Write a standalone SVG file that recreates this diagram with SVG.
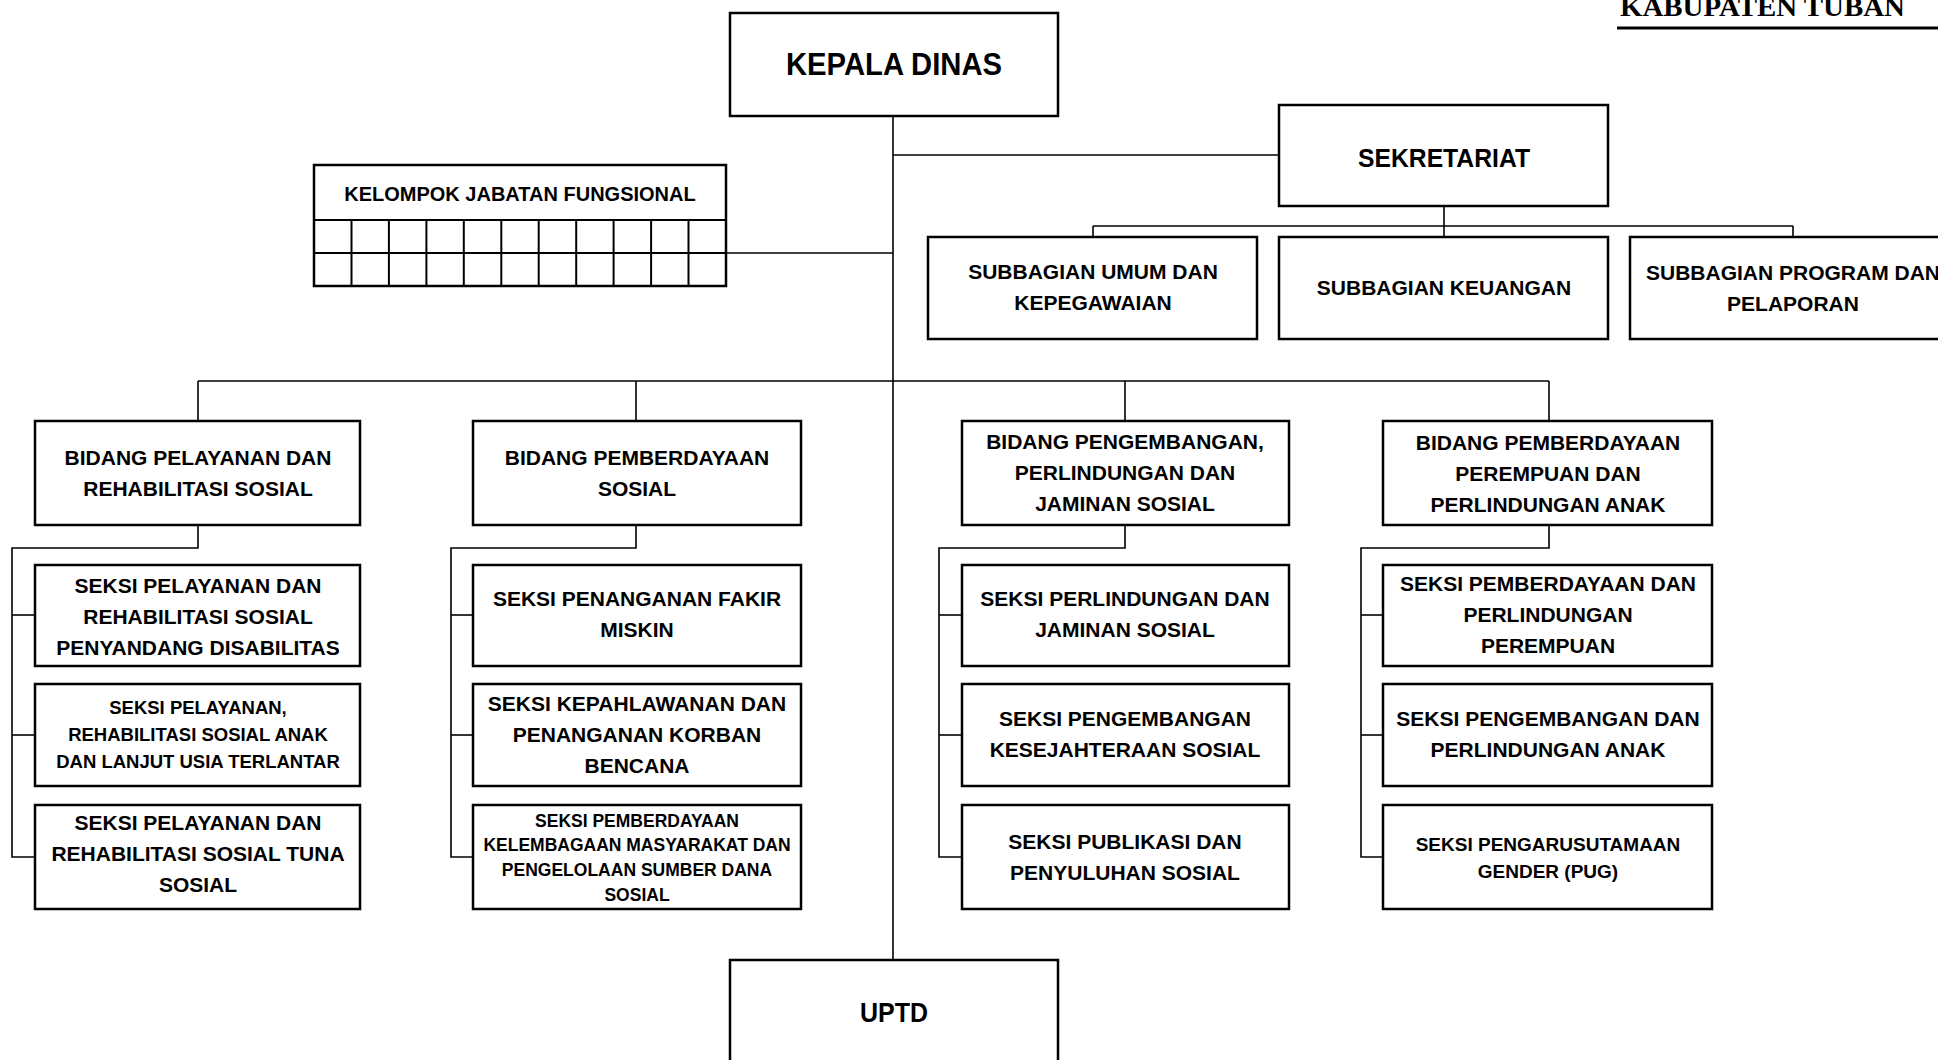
<svg xmlns="http://www.w3.org/2000/svg" width="1938" height="1060" viewBox="0 0 1938 1060">
<style>
  .box { fill: #ffffff; stroke: #000000; stroke-width: 2.5; }
  .ln { fill: none; stroke: #000000; stroke-width: 1.6; }
  .grid { fill: none; stroke: #000000; stroke-width: 2; }
  text { font-family: "Liberation Sans", Arial, sans-serif; font-weight: bold; fill: #000000; text-anchor: middle; }
  .t21 { font-size: 21px; }
  .t20 { font-size: 20px; }
  .t19 { font-size: 19px; }
  .t185 { font-size: 18.5px; }
  .t175 { font-size: 17.5px; }
  .tbig { font-size: 31px; }
  .tsek { font-size: 26px; }
  .tuptd { font-size: 28px; }
  .hdr { font-family: "Liberation Serif", "Times New Roman", serif; font-weight: bold; font-size: 28px; text-anchor: start; }
</style>
<rect x="0" y="0" width="1938" height="1060" fill="#ffffff"/>

<g id="header">
  <text class="hdr" x="1620" y="16" textLength="285" lengthAdjust="spacingAndGlyphs">KABUPATEN TUBAN</text>
  <line x1="1617" y1="28" x2="1938" y2="28" stroke="#000" stroke-width="3"/>
</g>

<g id="connectors">
  <line class="ln" x1="893" y1="116" x2="893" y2="960"/>
  <line class="ln" x1="893" y1="155" x2="1279" y2="155"/>
  <line class="ln" x1="726" y1="253" x2="893" y2="253"/>
  <line class="ln" x1="1444" y1="206" x2="1444" y2="237"/>
  <line class="ln" x1="1093" y1="226" x2="1793" y2="226"/>
  <line class="ln" x1="1093" y1="226" x2="1093" y2="237"/>
  <line class="ln" x1="1793" y1="226" x2="1793" y2="237"/>
  <line class="ln" x1="198" y1="381" x2="1549" y2="381"/>
  <line class="ln" x1="198" y1="381" x2="198" y2="421"/>
  <line class="ln" x1="636" y1="381" x2="636" y2="421"/>
  <line class="ln" x1="1125" y1="381" x2="1125" y2="421"/>
  <line class="ln" x1="1549" y1="381" x2="1549" y2="421"/>
  <polyline class="ln" points="198,525 198,548 12,548 12,857 35,857"/>
  <line class="ln" x1="12" y1="615" x2="35" y2="615"/>
  <line class="ln" x1="12" y1="735" x2="35" y2="735"/>
  <polyline class="ln" points="636,525 636,548 451,548 451,857 473,857"/>
  <line class="ln" x1="451" y1="615" x2="473" y2="615"/>
  <line class="ln" x1="451" y1="735" x2="473" y2="735"/>
  <polyline class="ln" points="1125,525 1125,548 939,548 939,857 962,857"/>
  <line class="ln" x1="939" y1="615" x2="962" y2="615"/>
  <line class="ln" x1="939" y1="735" x2="962" y2="735"/>
  <polyline class="ln" points="1549,525 1549,548 1361,548 1361,857 1383,857"/>
  <line class="ln" x1="1361" y1="615" x2="1383" y2="615"/>
  <line class="ln" x1="1361" y1="735" x2="1383" y2="735"/>
</g>

<g id="kepala-dinas">
  <rect class="box" x="730" y="13" width="328" height="103"/>
  <text class="tbig" x="894" y="75" textLength="216" lengthAdjust="spacingAndGlyphs">KEPALA DINAS</text>
</g>

<g id="sekretariat">
  <rect class="box" x="1279" y="105" width="329" height="101"/>
  <text class="tsek" x="1444" y="167" textLength="172" lengthAdjust="spacingAndGlyphs">SEKRETARIAT</text>
</g>

<g id="kelompok-jabatan-fungsional">
  <rect class="box" x="314" y="165" width="412" height="121"/>
  <line class="grid" x1="314" y1="220" x2="726" y2="220"/>
  <line class="grid" x1="314" y1="253" x2="726" y2="253"/>
  <line class="grid" x1="351.5" y1="220" x2="351.5" y2="286"/>
  <line class="grid" x1="388.9" y1="220" x2="388.9" y2="286"/>
  <line class="grid" x1="426.4" y1="220" x2="426.4" y2="286"/>
  <line class="grid" x1="463.8" y1="220" x2="463.8" y2="286"/>
  <line class="grid" x1="501.3" y1="220" x2="501.3" y2="286"/>
  <line class="grid" x1="538.7" y1="220" x2="538.7" y2="286"/>
  <line class="grid" x1="576.2" y1="220" x2="576.2" y2="286"/>
  <line class="grid" x1="613.6" y1="220" x2="613.6" y2="286"/>
  <line class="grid" x1="651.1" y1="220" x2="651.1" y2="286"/>
  <line class="grid" x1="688.5" y1="220" x2="688.5" y2="286"/>
  <text class="t20" x="520" y="201">KELOMPOK JABATAN FUNGSIONAL</text>
</g>

<g id="subbagian-umum">
  <rect class="box" x="928" y="237" width="329" height="102"/>
  <text class="t21" x="1093" y="279">SUBBAGIAN UMUM DAN</text>
  <text class="t21" x="1093" y="310">KEPEGAWAIAN</text>
</g>

<g id="subbagian-keuangan">
  <rect class="box" x="1279" y="237" width="329" height="102"/>
  <text class="t21" x="1444" y="295">SUBBAGIAN KEUANGAN</text>
</g>

<g id="subbagian-program">
  <rect class="box" x="1630" y="237" width="329" height="102"/>
  <text class="t21" x="1793" y="280">SUBBAGIAN PROGRAM DAN</text>
  <text class="t21" x="1793" y="311">PELAPORAN</text>
</g>

<g id="bidang-pelayanan">
  <rect class="box" x="35" y="421" width="325" height="104"/>
  <text class="t21" x="198" y="465">BIDANG PELAYANAN DAN</text>
  <text class="t21" x="198" y="496">REHABILITASI SOSIAL</text>
</g>
<g id="seksi-disabilitas">
  <rect class="box" x="35" y="565" width="325" height="101"/>
  <text class="t21" x="198" y="593">SEKSI PELAYANAN DAN</text>
  <text class="t21" x="198" y="624">REHABILITASI SOSIAL</text>
  <text class="t21" x="198" y="655">PENYANDANG DISABILITAS</text>
</g>
<g id="seksi-anak-lansia">
  <rect class="box" x="35" y="684" width="325" height="102"/>
  <text class="t185" x="198" y="714">SEKSI PELAYANAN,</text>
  <text class="t185" x="198" y="741">REHABILITASI SOSIAL ANAK</text>
  <text class="t185" x="198" y="768">DAN LANJUT USIA TERLANTAR</text>
</g>
<g id="seksi-tuna-sosial">
  <rect class="box" x="35" y="805" width="325" height="104"/>
  <text class="t21" x="198" y="830">SEKSI PELAYANAN DAN</text>
  <text class="t21" x="198" y="861">REHABILITASI SOSIAL TUNA</text>
  <text class="t21" x="198" y="892">SOSIAL</text>
</g>

<g id="bidang-pemberdayaan-sosial">
  <rect class="box" x="473" y="421" width="328" height="104"/>
  <text class="t21" x="637" y="465">BIDANG PEMBERDAYAAN</text>
  <text class="t21" x="637" y="496">SOSIAL</text>
</g>
<g id="seksi-fakir-miskin">
  <rect class="box" x="473" y="565" width="328" height="101"/>
  <text class="t21" x="637" y="606">SEKSI PENANGANAN FAKIR</text>
  <text class="t21" x="637" y="637">MISKIN</text>
</g>
<g id="seksi-kepahlawanan">
  <rect class="box" x="473" y="684" width="328" height="102"/>
  <text class="t21" x="637" y="711">SEKSI KEPAHLAWANAN DAN</text>
  <text class="t21" x="637" y="742">PENANGANAN KORBAN</text>
  <text class="t21" x="637" y="773">BENCANA</text>
</g>
<g id="seksi-kelembagaan">
  <rect class="box" x="473" y="805" width="328" height="104"/>
  <text class="t175" x="637" y="827">SEKSI PEMBERDAYAAN</text>
  <text class="t175" x="637" y="851">KELEMBAGAAN MASYARAKAT DAN</text>
  <text class="t175" x="637" y="876">PENGELOLAAN SUMBER DANA</text>
  <text class="t175" x="637" y="901">SOSIAL</text>
</g>

<g id="bidang-pengembangan">
  <rect class="box" x="962" y="421" width="327" height="104"/>
  <text class="t21" x="1125" y="449">BIDANG PENGEMBANGAN,</text>
  <text class="t21" x="1125" y="480">PERLINDUNGAN DAN</text>
  <text class="t21" x="1125" y="511">JAMINAN SOSIAL</text>
</g>
<g id="seksi-perlindungan-jaminan">
  <rect class="box" x="962" y="565" width="327" height="101"/>
  <text class="t21" x="1125" y="606">SEKSI PERLINDUNGAN DAN</text>
  <text class="t21" x="1125" y="637">JAMINAN SOSIAL</text>
</g>
<g id="seksi-kesejahteraan">
  <rect class="box" x="962" y="684" width="327" height="102"/>
  <text class="t21" x="1125" y="726">SEKSI PENGEMBANGAN</text>
  <text class="t21" x="1125" y="757">KESEJAHTERAAN SOSIAL</text>
</g>
<g id="seksi-publikasi">
  <rect class="box" x="962" y="805" width="327" height="104"/>
  <text class="t21" x="1125" y="849">SEKSI PUBLIKASI DAN</text>
  <text class="t21" x="1125" y="880">PENYULUHAN SOSIAL</text>
</g>

<g id="bidang-perempuan-anak">
  <rect class="box" x="1383" y="421" width="329" height="104"/>
  <text class="t21" x="1548" y="450">BIDANG PEMBERDAYAAN</text>
  <text class="t21" x="1548" y="481">PEREMPUAN DAN</text>
  <text class="t21" x="1548" y="512">PERLINDUNGAN ANAK</text>
</g>
<g id="seksi-perempuan">
  <rect class="box" x="1383" y="565" width="329" height="101"/>
  <text class="t21" x="1548" y="591">SEKSI PEMBERDAYAAN DAN</text>
  <text class="t21" x="1548" y="622">PERLINDUNGAN</text>
  <text class="t21" x="1548" y="653">PEREMPUAN</text>
</g>
<g id="seksi-anak">
  <rect class="box" x="1383" y="684" width="329" height="102"/>
  <text class="t21" x="1548" y="726">SEKSI PENGEMBANGAN DAN</text>
  <text class="t21" x="1548" y="757">PERLINDUNGAN ANAK</text>
</g>
<g id="seksi-pug">
  <rect class="box" x="1383" y="805" width="329" height="104"/>
  <text class="t19" x="1548" y="851">SEKSI PENGARUSUTAMAAN</text>
  <text class="t19" x="1548" y="878">GENDER (PUG)</text>
</g>

<g id="uptd">
  <rect class="box" x="730" y="960" width="328" height="110"/>
  <text class="tuptd" x="894" y="1022" textLength="68" lengthAdjust="spacingAndGlyphs">UPTD</text>
</g>
</svg>
